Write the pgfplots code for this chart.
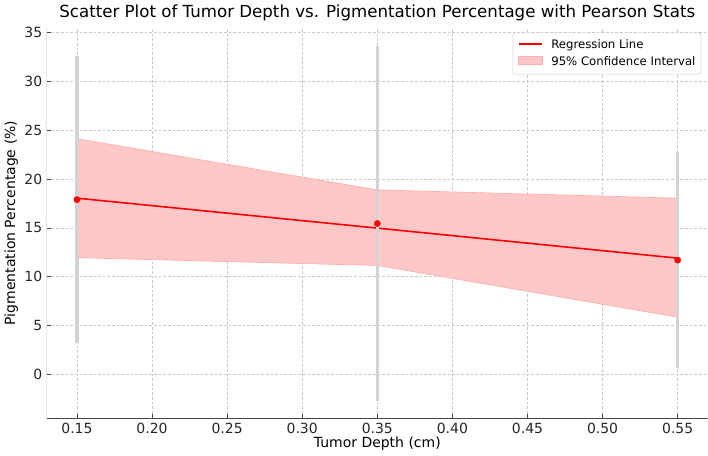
\documentclass[border=0pt]{standalone}
\usepackage{fontspec}
\setmainfont{DejaVu Sans}
\usepackage{pgfplots}
\pgfplotsset{compat=1.18}
\usepgfplotslibrary{fillbetween}

\definecolor{bandred}{RGB}{255,200,200}
\definecolor{bandedge}{RGB}{255,175,175}
\definecolor{barsgray}{RGB}{211,211,211}
\definecolor{gridgray}{RGB}{200,200,200}
\definecolor{spine}{RGB}{70,70,70}

\newsavebox\keyline
\newsavebox\keyband

\begin{document}%
% legend keys
\sbox\keyline{\tikz[baseline=-0.65ex]\draw[red, line width=1.3pt] (0,0) -- (0.62cm,0);}%
\sbox\keyband{\tikz[baseline=-0.65ex]\draw[fill=bandred, draw=bandedge, line width=0.5pt] (0,-0.11cm) rectangle (0.62cm,0.11cm);}%
\begin{tikzpicture}
\begin{axis}[
  scale only axis,
  width=496.5pt, height=293.25pt,
  xmin=0.13, xmax=0.57,
  ymin=-4.5, ymax=35.5,
  xtick={0.15,0.20,...,0.55},
  ytick={0,5,...,35},
  xticklabel style={/pgf/number format/.cd,fixed,fixed zerofill,precision=2},
  /pgf/number format/assume math mode=true,
  tick label style={font=\fontsize{10.5}{12}\selectfont, color=black!85},
  label style={font=\fontsize{10.5}{12}\selectfont},
  title style={font=\fontsize{12.5}{14}\selectfont, yshift=-4pt},
  title={Scatter Plot of Tumor Depth vs. Pigmentation Percentage with Pearson Stats},
  xlabel={Tumor Depth (cm)},
  ylabel={Pigmentation Percentage (\%)},
  xlabel style={yshift=4pt},
  ylabel style={yshift=-2pt},
  axis line style={draw=none},
  xtick pos=bottom, ytick pos=left,
  tick align=inside,
  major tick length=3pt,
  tick style={spine, line width=0.6pt},
  grid=major,
  major grid style={gridgray, dash pattern=on 2pt off 1.5pt, line width=0.45pt},
]
% 95% confidence band around the fitted line
\addplot[name path=upper, draw=none] coordinates {(0.15,24.15) (0.35,18.9) (0.55,18.05)};
\addplot[name path=lower, draw=none] coordinates {(0.15,11.95) (0.35,11.15) (0.55,5.85)};

% regression line
\addplot[red, line width=1.2pt] coordinates {(0.15,18.05) (0.35,14.98) (0.55,11.9)};

\addplot[bandred, draw=bandedge, line width=0.5pt] fill between[of=upper and lower];

% group means with spread as error bars
\addplot[only marks, mark=*, mark size=2.3pt, color=red,
  error bars/.cd, y dir=both, y explicit,
  error bar style={barsgray, line width=2.4pt}, error mark=none]
  coordinates {
    (0.15,17.9) +- (0,14.7)
    (0.35,15.45) +- (0,18.15)
    (0.55,11.7) +- (0,11.05)
  };

% left and bottom spines only
\draw[spine, line width=0.7pt] (rel axis cs:0,1) -- (rel axis cs:0,0) -- (rel axis cs:1,0);

% legend
\node[anchor=north east, draw=black!18, rounded corners=2pt, fill=white,
  inner xsep=4pt, inner ysep=3pt, font=\fontsize{8.8}{12.5}\selectfont]
  at (rel axis cs:0.99,0.988)
  {\begin{tabular}{@{}l@{\hspace{6pt}}l@{}}
     \usebox\keyline & Regression Line\\
     \usebox\keyband & 95\% Confidence Interval
   \end{tabular}};
\end{axis}
\end{tikzpicture}%
\end{document}
